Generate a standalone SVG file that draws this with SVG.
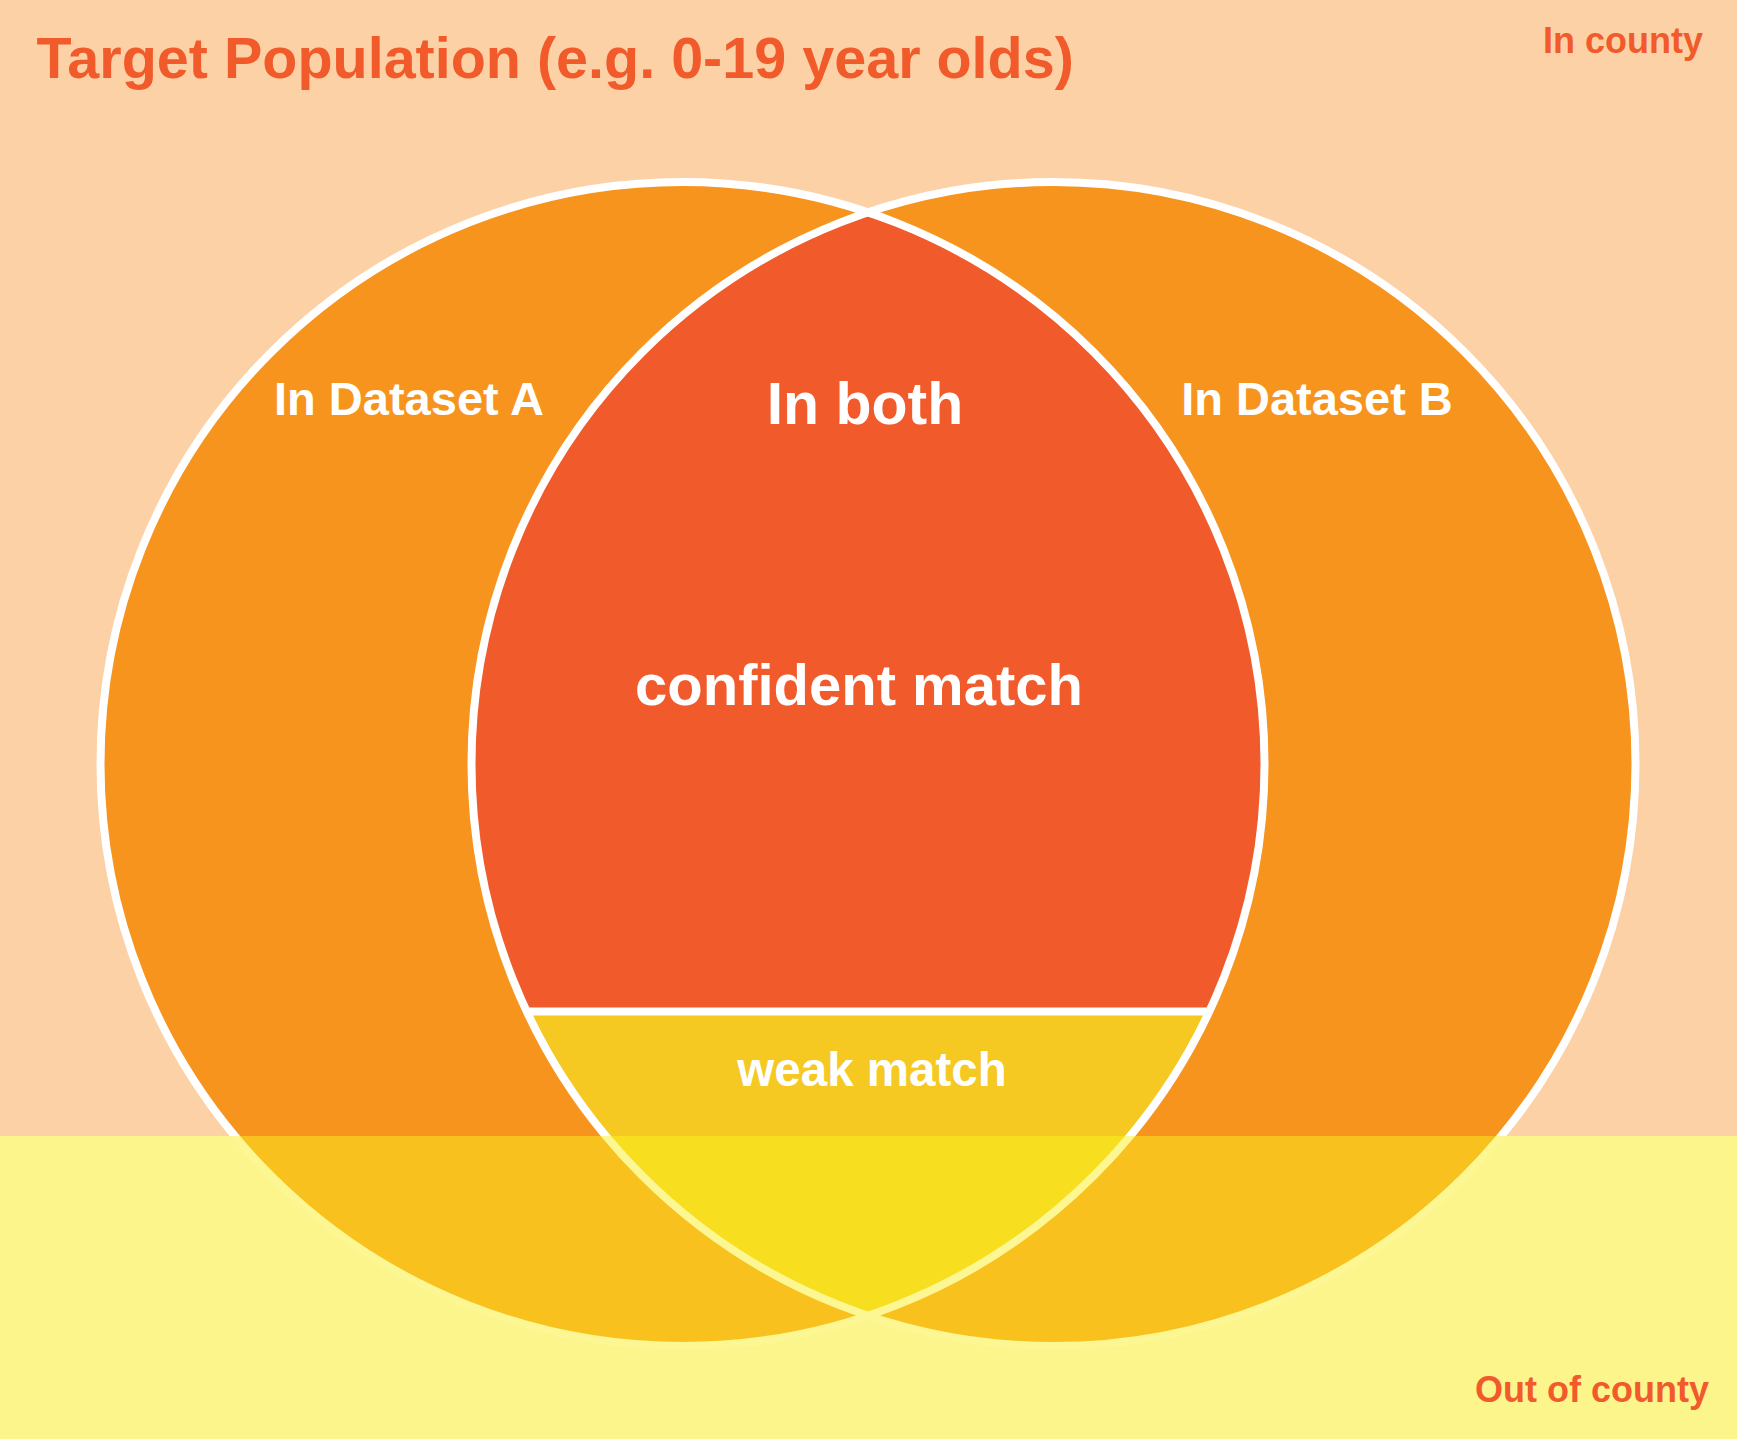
<svg xmlns="http://www.w3.org/2000/svg" width="1737" height="1439" viewBox="0 0 1737 1439">
  <style>
    text { font-family: "Liberation Sans", Arial, sans-serif; font-weight: bold; }
    .head { fill: #F15A2B; }
    .lbl { fill: #FFFFFF; text-anchor: middle; }
    .edge { fill: none; stroke-width: 8; }
    .up .bg { fill: #FDD1A6; }
    .lo .bg { fill: #FBF58B; }
    .up .set { fill: #F7941E; }
    .lo .set { fill: #F8C11E; }
    .up .red { fill: #F15A2B; }
    .up .weak { fill: #F5C922; }
    .lo .weak { fill: #F7DE1F; }
    .up .edge { stroke: #FFFFFF; }
    .lo .edge { stroke: #FCF792; }
  </style>
  <defs>
    <!-- two circles of the Venn diagram -->
    <circle id="circleA" cx="682.5" cy="764" r="582"/>
    <circle id="circleB" cx="1053.5" cy="764" r="582"/>
    <!-- overlap (lens) of the two circles -->
    <clipPath id="lens">
      <path d="M868 212.4 A582 582 0 0 1 868 1315.6 A582 582 0 0 1 868 212.4 Z"/>
    </clipPath>
    <clipPath id="inCounty"><rect x="0" y="0" width="1737" height="1136"/></clipPath>
    <clipPath id="outCounty"><rect x="0" y="1136" width="1737" height="303"/></clipPath>
  </defs>

  <!-- in-county part (upper) -->
  <g class="up" clip-path="url(#inCounty)">
    <rect class="bg" x="0" y="0" width="1737" height="1439"/>
    <g id="dataset-a"><use href="#circleA" class="set"/></g>
    <g id="dataset-b"><use href="#circleB" class="set"/></g>
    <g clip-path="url(#lens)">
      <g id="confident-match"><rect class="red" x="300" y="150" width="1200" height="861.5"/></g>
      <g id="weak-match"><rect class="weak" x="300" y="1011.5" width="1200" height="400"/></g>
    </g>
    <g id="outlines">
      <use href="#circleA" class="edge"/>
      <use href="#circleB" class="edge"/>
      <line class="edge" x1="526.7" y1="1011.5" x2="1209.3" y2="1011.5"/>
    </g>
  </g>

  <!-- out-of-county band (lower) -->
  <g class="lo" clip-path="url(#outCounty)">
    <rect class="bg" x="0" y="0" width="1737" height="1439"/>
    <use href="#circleA" class="set"/>
    <use href="#circleB" class="set"/>
    <g clip-path="url(#lens)">
      <rect class="weak" x="300" y="1011.5" width="1200" height="400"/>
    </g>
    <use href="#circleA" class="edge"/>
    <use href="#circleB" class="edge"/>
  </g>

  <!-- labels -->
  <g id="labels">
    <text class="head" x="36.5" y="78" font-size="57.5">Target Population (e.g. 0-19 year olds)</text>
    <text class="head" x="1543" y="53" font-size="36">In county</text>
    <text class="head" x="1475" y="1402" font-size="36">Out of county</text>
    <text class="lbl" x="409" y="415" font-size="47">In Dataset A</text>
    <text class="lbl" x="1317" y="415" font-size="47">In Dataset B</text>
    <text class="lbl" x="865" y="424" font-size="59">In both</text>
    <text class="lbl" x="859" y="705" font-size="58">confident match</text>
    <text class="lbl" x="872" y="1086" font-size="47.5">weak match</text>
  </g>
</svg>
